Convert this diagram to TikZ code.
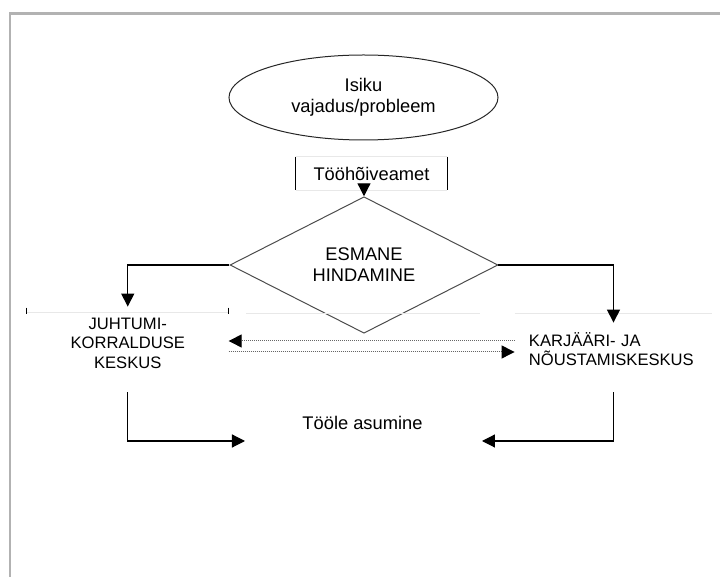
\documentclass[tikz,border=0pt]{standalone}
\usepackage{fontspec}
\setmainfont{Liberation Sans}
\usetikzlibrary{shapes.geometric,arrows.meta}

\begin{document}
\begin{tikzpicture}[x=0.5pt, y=-0.5pt,
        big/.style={font=\fontsize{9.15}{10.5}\selectfont},
        small/.style={font=\fontsize{8.3}{9.75}\selectfont},
        conn/.style={black, line width=0.6pt},
        arr/.style={conn, -{Triangle[length=6.5pt, width=6.5pt]}},
        dots/.style={black!60, line width=0.5pt, dash pattern=on 0.5pt off 0.5pt, -{Triangle[length=6.5pt, width=6.5pt, color=black]}},
        faint/.style={black!9, line width=0.5pt}]
            \useasboundingbox (0, 0) rectangle (720, 577);
            \draw[black!30, line width=1.25pt] (10, 600) -- (10, 13.3) -- (740, 13.3);

            \node[draw=black!85, ellipse, line width=0.5pt, minimum width=134.5pt, minimum height=42.5pt, inner sep=0, big, align=center] (isik) at (363.5, 97.5) {Isiku\\vajadus/probleem};
            \node[big, minimum width=75.5pt, minimum height=16.5pt, inner sep=0] (amet) at (371.5, 173.5) {Tööhõiveamet};
            \node[draw=black!70, diamond, line width=0.5pt, minimum width=134pt, minimum height=58pt, inner sep=0, big, align=center] (hind) at (364, 265) {ESMANE\\HINDAMINE};
            \node[small, align=center, minimum width=100.5pt, minimum height=30pt, inner sep=0] (juht) at (127.75, 343) {JUHTUMI-\\KORRALDUSE\\KESKUS};
            \node[small, align=left, text width=84.5pt, inner xsep=7pt, inner ysep=0, minimum height=35pt] (karj) at (613.5, 349) {KARJÄÄRI- JA\\NÕUSTAMISKESKUS};
            \node[big, anchor=base, inner sep=0] (toole) at (362.5, 430) {Tööle asumine};

            \coordinate (toolew) at (245, 441);
            \coordinate (toolee) at (482, 441);

            % box edges
            \draw[faint] (amet.north west) -- (amet.north east) (amet.south west) -- (amet.south east);
            \draw[black, line width=0.8pt] (amet.north west) -- (amet.south west) (amet.north east) -- (amet.south east);
            \draw[faint] (juht.north west) -- (juht.north east);
            \draw[black, line width=0.6pt] ([yshift=2.5pt]juht.north west) -- ([yshift=-0.5pt]juht.north west) ([yshift=2.5pt]juht.north east) -- ([yshift=-0.5pt]juht.north east);
            \draw[faint] (246, 314) -- (480, 314);
            \draw[faint] (karj.north west) -- (karj.north east);

            \draw[arr] (hind.north |- amet.south) -- (hind.north);
            \draw[arr, shorten >=3pt] (hind.west) -| (juht.north);
            \draw[arr, shorten >=-4.5pt] (hind.east) -| (karj.north);
            \draw[dots] ([yshift=4pt]karj.west) -- ([yshift=4pt]karj.west -| juht.east);
            \draw[dots] ([yshift=-4.5pt]juht.east) -- ([yshift=-4.5pt]juht.east -| karj.west);
            \draw[arr] ([yshift=-9.5pt]juht.south) |- (toolew);
            \draw[arr] ([yshift=-4pt]karj.south) |- (toolee);

\end{tikzpicture}
\end{document}
